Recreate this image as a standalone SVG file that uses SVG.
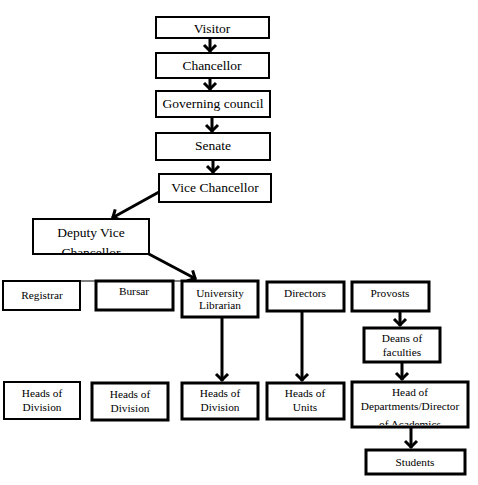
<svg xmlns="http://www.w3.org/2000/svg" width="478" height="485" viewBox="0 0 478 485">
<style>
.b{fill:#fff;stroke:#000;stroke-width:2}
.b3{fill:#fff;stroke:#000;stroke-width:3}
text{font-family:"Liberation Serif","Times New Roman","DejaVu Serif",serif;fill:#000;text-anchor:middle}
.t{font-size:13.5px}
.s{font-size:11.3px}
.c{fill:none;stroke:#000;stroke-width:3}
</style>
<defs>
<marker id="ah" markerUnits="userSpaceOnUse" markerWidth="16" markerHeight="16" refX="12" refY="8" orient="auto">
<path d="M5,2 L11,8 L5,14" fill="none" stroke="#000" stroke-width="3"/>
</marker>
<clipPath id="cDVC"><rect x="34" y="220" width="114" height="33"/></clipPath>
<clipPath id="cHD"><rect x="353" y="382" width="114" height="43"/></clipPath>
</defs>
<rect width="478" height="485" fill="#fff"/>
<g id="connectors">
<line x1="80" y1="281" x2="182" y2="281" stroke="#000" stroke-width="1"/>
<line class="c" x1="210" y1="38" x2="210" y2="52" marker-end="url(#ah)"/>
<line class="c" x1="210" y1="78" x2="210" y2="90" marker-end="url(#ah)"/>
<line class="c" x1="212" y1="117" x2="212" y2="132" marker-end="url(#ah)"/>
<line class="c" x1="213" y1="160" x2="213" y2="173" marker-end="url(#ah)"/>
<line class="c" x1="159" y1="192" x2="112" y2="218" stroke-width="2" marker-end="url(#ah)"/>
<line class="c" x1="147" y1="253" x2="196" y2="279" marker-end="url(#ah)"/>
<line class="c" x1="222" y1="317" x2="222" y2="381" marker-end="url(#ah)"/>
<line class="c" x1="302" y1="311" x2="302" y2="381" marker-end="url(#ah)"/>
<line class="c" x1="400" y1="311" x2="400" y2="326" marker-end="url(#ah)"/>
<line class="c" x1="402" y1="362" x2="402" y2="380" marker-end="url(#ah)"/>
<line class="c" x1="411" y1="427" x2="411" y2="448" marker-end="url(#ah)"/>
</g>
<g id="visitor"><rect class="b" x="156" y="17" width="113" height="21"/><text class="t" x="212" y="33">Visitor</text></g>
<g id="chancellor"><rect class="b" x="156" y="53" width="113" height="25"/><text class="t" x="212" y="70">Chancellor</text></g>
<g id="governing"><rect class="b" x="156" y="91" width="114" height="26"/><text class="t" x="213" y="108">Governing council</text></g>
<g id="senate"><rect class="b" x="156" y="133" width="114" height="27"/><text class="t" x="213" y="150">Senate</text></g>
<g id="vc"><rect class="b" x="159" y="174" width="112" height="28"/><text class="t" x="215" y="192">Vice Chancellor</text></g>
<g id="dvc"><rect class="b" x="33" y="219" width="116" height="35" stroke-width="1.5"/><g clip-path="url(#cDVC)"><text class="t" x="91" y="237">Deputy Vice</text><text class="t" x="91" y="257">Chancellor</text></g></g>
<g id="registrar"><rect class="b" x="3" y="281" width="77" height="29"/><text class="s" x="42" y="299">Registrar</text></g>
<g id="bursar"><rect class="b3" x="96" y="281" width="77" height="29"/><text class="s" x="134" y="295">Bursar</text></g>
<g id="librarian"><rect class="b3" x="182" y="281" width="76" height="36"/><text class="s" x="220" y="297" font-size="10">University</text><text class="s" x="220" y="309" font-size="10">Librarian</text></g>
<g id="directors"><rect class="b3" x="267" y="282" width="77" height="29"/><text class="s" x="305" y="297">Directors</text></g>
<g id="provosts"><rect class="b3" x="352" y="282" width="77" height="29"/><text class="s" x="390" y="297">Provosts</text></g>
<g id="deans"><rect class="b3" x="364" y="328" width="76" height="34"/><text class="s" x="402" y="342">Deans of</text><text class="s" x="402" y="356">faculties</text></g>
<g id="hod1"><rect class="b" x="4" y="382" width="76" height="37"/><text class="s" x="42" y="397">Heads of</text><text class="s" x="42" y="411">Division</text></g>
<g id="hod2"><rect class="b3" x="92" y="383" width="76" height="37"/><text class="s" x="130" y="398">Heads of</text><text class="s" x="130" y="412">Division</text></g>
<g id="hod3"><rect class="b3" x="182" y="383" width="76" height="36"/><text class="s" x="220" y="397">Heads of</text><text class="s" x="220" y="411">Division</text></g>
<g id="hou"><rect class="b3" x="267" y="383" width="77" height="36"/><text class="s" x="305" y="397">Heads of</text><text class="s" x="305" y="411">Units</text></g>
<g id="headdept"><rect class="b3" x="352" y="382" width="116" height="45"/><g clip-path="url(#cHD)"><text class="s" x="410" y="396">Head of</text><text class="s" x="410" y="410">Departments/Director</text><text class="s" x="410" y="428">of Academics</text></g></g>
<g id="students"><rect class="b3" x="366" y="450" width="99" height="24"/><text class="s" x="415" y="466">Students</text></g>
</svg>
